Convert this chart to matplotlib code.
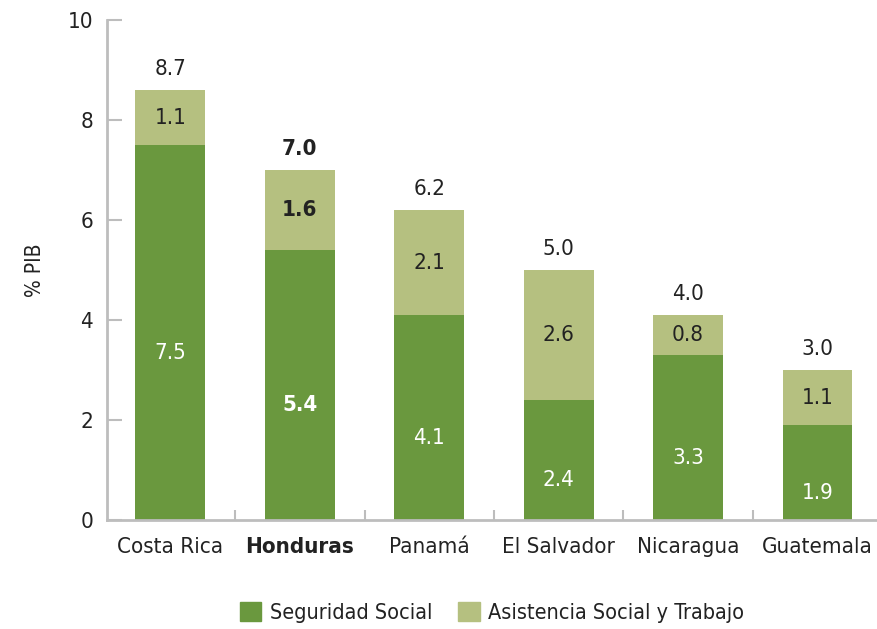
import matplotlib
matplotlib.use("Agg")
import matplotlib.pyplot as plt
from matplotlib.patches import Patch
import numpy as np

plt.rcParams['font.family'] = ['DejaVu Sans']
plt.rcParams['font.stretch'] = 'condensed'

# data
paises = ["Costa Rica", "Honduras", "Panamá", "El Salvador", "Nicaragua", "Guatemala"]
seguridad = [7.5, 5.4, 4.1, 2.4, 3.3, 1.9]
asistencia = [1.1, 1.6, 2.1, 2.6, 0.8, 1.1]
totales = [8.7, 7.0, 6.2, 5.0, 4.0, 3.0]
resaltado = "Honduras"

verde = "#6a983e"
verde_claro = "#b5c080"
gris = "#bdbdbd"
texto = "#222222"

fig = plt.figure(figsize=(8.77, 6.29), dpi=100)
ax = fig.add_axes([0.122, 0.173, 0.878, 0.795])

x = np.arange(len(paises))
w = 0.54
ax.bar(x, seguridad, w, color=verde)
ax.bar(x, asistencia, w, bottom=seguridad, color=verde_claro)

for i in range(len(paises)):
    peso = "bold" if paises[i] == resaltado else "normal"
    s = seguridad[i]
    a = asistencia[i]
    ax.text(x[i], s / 2 - 0.4, "{:.1f}".format(s), ha="center", va="center",
            color="white", fontsize=16, fontweight=peso)
    ax.text(x[i], s + a / 2, "{:.1f}".format(a), ha="center", va="center",
            color=texto, fontsize=16, fontweight=peso)
    ax.text(x[i], s + a + 0.42, "{:.1f}".format(totales[i]), ha="center", va="center",
            color=texto, fontsize=16, fontweight=peso)

ax.set_xlim(-0.49, 5.46)
ax.set_ylim(0, 10)
ax.set_yticks([0, 2, 4, 6, 8, 10])
ax.set_xticks(x)
ax.set_xticklabels(paises)
for lab in ax.get_xticklabels():
    if lab.get_text() == resaltado:
        lab.set_fontweight("bold")
ax.set_xticks(x[:-1] + 0.5, minor=True)

ax.tick_params(axis="y", direction="in", length=11, width=1.5, color=gris,
               labelsize=16, labelcolor=texto, pad=10)
ax.tick_params(axis="x", which="major", length=0, labelsize=16, labelcolor=texto, pad=12)
ax.tick_params(axis="x", which="minor", direction="in", length=7, width=1.5, color=gris)

for lado in ["top", "right"]:
    ax.spines[lado].set_visible(False)
for lado in ["left", "bottom"]:
    ax.spines[lado].set_color(gris)
    ax.spines[lado].set_linewidth(2)

ax.set_ylabel("% PIB", fontsize=15, color=texto, labelpad=16)

handles = [Patch(color=verde, label="Seguridad Social"),
           Patch(color=verde_claro, label="Asistencia Social y Trabajo")]
fig.legend(handles=handles, loc="center", bbox_to_anchor=(0.561, 0.027), ncol=2,
           frameon=False, fontsize=15.5, handlelength=1.0, handleheight=1.0,
           handletextpad=0.4, columnspacing=1.2, labelcolor=texto)

fig.savefig("out.png", dpi=100)
